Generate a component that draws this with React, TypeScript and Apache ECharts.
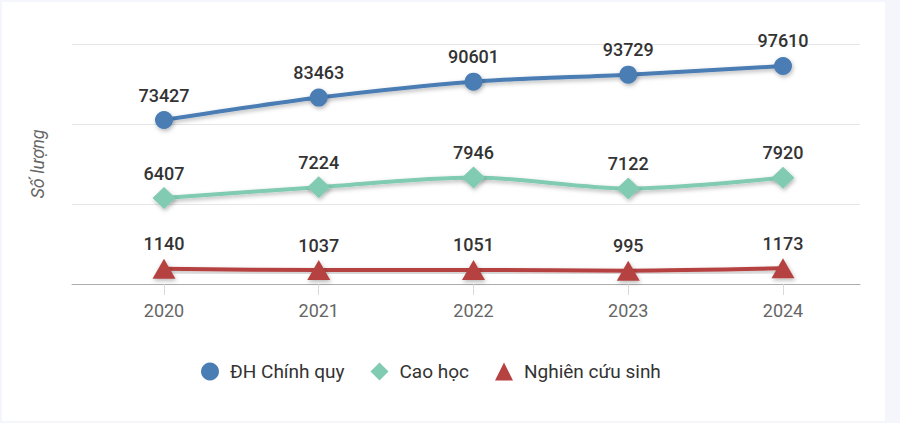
import React, { useEffect, useRef } from 'react';
import * as echarts from 'echarts';

const years = [2020, 2021, 2022, 2023, 2024];
const dhChinhQuy = [73427, 83463, 90601, 93729, 97610];
const caoHoc = [6407, 7224, 7946, 7122, 7920];
const nghienCuuSinh = [1140, 1037, 1051, 995, 1173];

const seriesNames = ['ĐH Chính quy', 'Cao học', 'Nghiên cứu sinh'];
const seriesColors = ['#4a7db4', '#80cbb1', '#b54241'];

const FONT = 'Roboto, "Liberation Sans", Arial, sans-serif';

const toPoints = (vals: number[]) => years.map((y, i) => [y, vals[i]]);

const shadow = {
  shadowColor: 'rgba(0,0,0,0.28)',
  shadowBlur: 4,
  shadowOffsetX: 1,
  shadowOffsetY: 2,
};

const makeSeries = (
  idx: number,
  vals: number[],
  yAxisIndex: number,
  symbol: string,
  symbolSize: number | number[],
  labelDistance: number
) => ({
  name: seriesNames[idx],
  type: 'line',
  yAxisIndex,
  data: toPoints(vals),
  smooth: 0.3,
  symbol,
  symbolSize,
  color: seriesColors[idx],
  lineStyle: { width: 4, color: seriesColors[idx], ...shadow },
  itemStyle: { color: seriesColors[idx], ...shadow },
  label: {
    show: true,
    position: 'top',
    distance: labelDistance,
    color: '#333',
    fontFamily: FONT,
    fontSize: 18,
    fontWeight: 500,
    formatter: (p: any) => String(p.value[1]),
  },
  emphasis: { disabled: true },
});

export default function App() {
  const chartRef = useRef<HTMLDivElement>(null);

  useEffect(() => {
    if (!chartRef.current) return;
    const chart = echarts.init(chartRef.current, null, { renderer: 'svg' });

    const option = {
      animation: false,
      backgroundColor: 'transparent',
      textStyle: { fontFamily: FONT },
      grid: { left: 72, right: 40, top: 44, bottom: 139 },
      legend: {
        left: 196,
        top: 357,
        itemGap: 26,
        itemWidth: 18,
        itemHeight: 18,
        textStyle: { color: '#333', fontSize: 19, fontFamily: FONT, padding: [0, 0, 0, 6] },
        data: [
          { name: seriesNames[0], icon: 'circle' },
          { name: seriesNames[1], icon: 'diamond' },
          { name: seriesNames[2], icon: 'triangle' },
        ],
      },
      xAxis: {
        type: 'value',
        min: 2019.4055,
        max: 2024.4976,
        splitLine: { show: false },
        axisLine: { show: true, onZero: false, lineStyle: { color: '#adadad', width: 1 } },
        axisTick: { show: true, customValues: years, length: 11, lineStyle: { color: '#d9d9d9' } },
        axisLabel: {
          customValues: years,
          color: '#666',
          fontSize: 18,
          fontFamily: FONT,
          margin: 17,
          formatter: (v: number) => String(v),
        },
      },
      yAxis: [
        {
          type: 'value',
          min: 0,
          max: 107460,
          interval: 35820,
          name: 'Số lượng',
          nameLocation: 'middle',
          nameGap: 26,
          nameTextStyle: { color: '#666', fontSize: 18, fontStyle: 'italic', fontFamily: FONT },
          axisLine: { show: false },
          axisTick: { show: false },
          axisLabel: { show: false },
          splitLine: { show: true, lineStyle: { color: '#e6e6e6', width: 1 } },
        },
        {
          type: 'value',
          min: 0,
          max: 17900,
          position: 'left',
          axisLine: { show: false },
          axisTick: { show: false },
          axisLabel: { show: false },
          splitLine: { show: false },
        },
      ],
      series: [
        makeSeries(0, dhChinhQuy, 0, 'circle', 18, 7),
        makeSeries(1, caoHoc, 1, 'diamond', [23, 22], 5),
        makeSeries(2, nghienCuuSinh, 1, 'triangle', [23, 20], 6),
      ],
    } as any;

    chart.setOption(option);
    const handleResize = () => chart.resize();
    window.addEventListener('resize', handleResize);
    return () => {
      window.removeEventListener('resize', handleResize);
      chart.dispose();
    };
  }, []);

  return (
    <div style={{ position: 'fixed', left: 0, top: 0, width: 900, height: 423, background: '#f5f6fb' }}>
      <div style={{ position: 'absolute', left: 2, top: 2, width: 883, height: 419, background: '#ffffff' }} />
      <div ref={chartRef} style={{ position: 'absolute', left: 0, top: 0, width: 900, height: 423 }} />
    </div>
  );
}
